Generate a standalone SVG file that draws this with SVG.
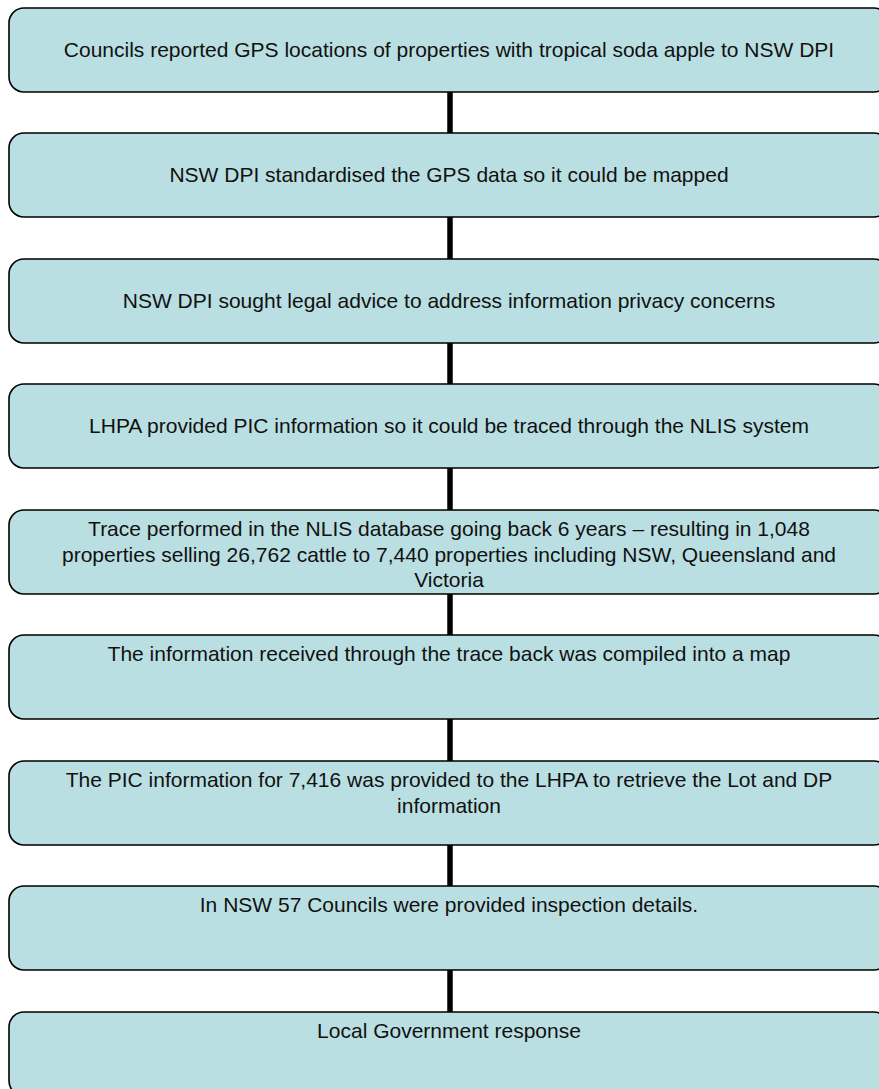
<svg xmlns="http://www.w3.org/2000/svg" width="879" height="1089" viewBox="0 0 879 1089">
<style>
.box{fill:#B9DFE2;stroke:#000;stroke-width:1.6}
.t{font-family:"Liberation Sans",Arial,sans-serif;font-size:21px;fill:#111;text-anchor:middle}
.c{stroke:#000;stroke-width:5.5;fill:none}
</style>
<rect width="879" height="1089" fill="#fff"/>
<g id="connectors">
<line class="c" x1="450" y1="92" x2="450" y2="133"/>
<line class="c" x1="450" y1="217" x2="450" y2="259"/>
<line class="c" x1="450" y1="342" x2="450" y2="384"/>
<line class="c" x1="450" y1="468" x2="450" y2="510"/>
<line class="c" x1="450" y1="593" x2="450" y2="635"/>
<line class="c" x1="450" y1="719" x2="450" y2="761"/>
<line class="c" x1="450" y1="845" x2="450" y2="886"/>
<line class="c" x1="450" y1="970" x2="450" y2="1012"/>
</g>
<g id="n1"><rect class="box" x="9" y="8" width="880" height="84" rx="15"/><text class="t" x="449" y="57">Councils reported GPS locations of properties with tropical soda apple to NSW DPI</text></g>
<g id="n2"><rect class="box" x="9" y="133" width="880" height="84" rx="15"/><text class="t" x="449" y="182">NSW DPI standardised the GPS data so it could be mapped</text></g>
<g id="n3"><rect class="box" x="9" y="259" width="880" height="84" rx="15"/><text class="t" x="449" y="308">NSW DPI sought legal advice to address information privacy concerns</text></g>
<g id="n4"><rect class="box" x="9" y="384" width="880" height="84" rx="15"/><text class="t" x="449" y="433">LHPA provided PIC information so it could be traced through the NLIS system</text></g>
<g id="n5"><rect class="box" x="9" y="510" width="880" height="84" rx="15"/><text class="t" x="449" y="536">Trace performed in the NLIS database going back 6 years – resulting in 1,048</text><text class="t" x="449" y="561.5">properties selling 26,762 cattle to 7,440 properties including NSW, Queensland and</text><text class="t" x="449" y="587">Victoria</text></g>
<g id="n6"><rect class="box" x="9" y="635" width="880" height="84" rx="15"/><text class="t" x="449" y="661">The information received through the trace back was compiled into a map</text></g>
<g id="n7"><rect class="box" x="9" y="761" width="880" height="84" rx="15"/><text class="t" x="449" y="787">The PIC information for 7,416 was provided to the LHPA to retrieve the Lot and DP</text><text class="t" x="449" y="812.5">information</text></g>
<g id="n8"><rect class="box" x="9" y="886" width="880" height="84" rx="15"/><text class="t" x="449" y="912">In NSW 57 Councils were provided inspection details.</text></g>
<g id="n9"><rect class="box" x="9" y="1012" width="880" height="84" rx="15"/><text class="t" x="449" y="1038">Local Government response</text></g>
</svg>
